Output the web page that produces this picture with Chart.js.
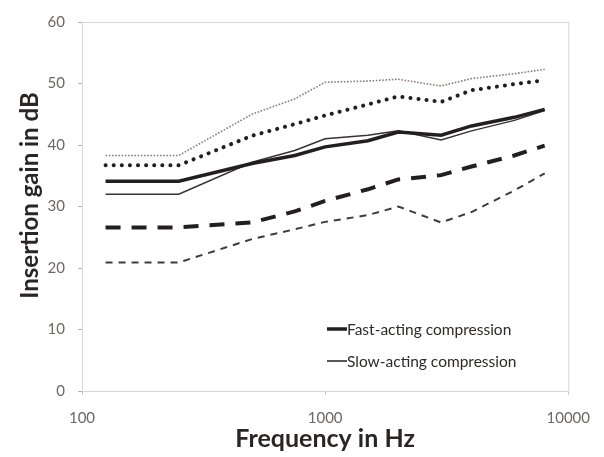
<!DOCTYPE html>
<html>
<head>
<meta charset="utf-8">
<script src="https://cdn.jsdelivr.net/npm/chart.js@4.4.1/dist/chart.umd.min.js"></script>
<style>
  html, body { margin: 0; padding: 0; background: #fff; }
  #wrap { width: 604px; height: 457px; }
</style>
</head>
<body>
<div id="wrap"><canvas id="gainChart" width="604" height="457"></canvas></div>
<script>
// frequencies in Hz
const freqs = [125, 250, 500, 750, 1000, 1500, 2000, 3000, 4000, 6000, 8000];

// insertion gain in dB
const fastSolid  = [34.1, 34.1, 37.0, 38.3, 39.7, 40.7, 42.1, 41.6, 43.1, 44.5, 45.8];
const slowSolid  = [32.0, 32.0, 37.2, 39.1, 41.0, 41.6, 42.3, 40.8, 42.3, 44.0, 45.6];
const fastDotted = [36.7, 36.7, 41.5, 43.4, 44.8, 46.6, 47.9, 47.0, 48.9, 49.9, 50.5];
const slowDotted = [38.3, 38.3, 45.0, 47.5, 50.2, 50.4, 50.7, 49.6, 50.8, 51.6, 52.3];
const fastDashed = [26.6, 26.6, 27.4, 29.2, 30.9, 32.8, 34.4, 35.1, 36.5, 38.3, 39.9];
const slowDashed = [20.9, 20.9, 24.7, 26.3, 27.5, 28.6, 30.0, 27.4, 29.1, 32.6, 35.4];

const xTicks = [100, 1000, 10000];
const yTicks = [0, 10, 20, 30, 40, 50, 60];
const legendLabels = ["Fast-acting compression", "Slow-acting compression"];

const FONT = "Lato, 'Open Sans', sans-serif";

function pts(values) {
  return values.map((v, i) => ({ x: freqs[i], y: v }));
}

function line(label, values, color, width, dash) {
  return {
    label: label,
    data: pts(values),
    borderColor: color,
    borderWidth: width,
    borderDash: dash,
    borderCapStyle: dash.length && dash[0] < 1 ? "round" : "butt",
    pointRadius: 0,
    tension: 0,
    fill: false,
  };
}

// plot frame, y title and legend inside the plot
const framePlugin = {
  id: "frame",
  beforeDatasetsDraw(chart) {
    const a = chart.chartArea;
    const c = chart.ctx;
    c.save();
    c.strokeStyle = "#dcd6d4";
    c.lineWidth = 1;
    c.strokeRect(a.left + 0.5, a.top + 0.5, a.right - a.left, a.bottom - a.top);
    // y axis title, sits a bit above the plot centre like the original
    c.translate(30, (a.top + a.bottom) / 2 - 11);
    c.rotate(-Math.PI / 2);
    c.font = "bold 24px " + FONT;
    c.fillStyle = "#2b2526";
    c.textAlign = "center";
    c.textBaseline = "middle";
    c.fillText("Insertion gain in dB", 0, 0);
    c.restore();
  },
  afterDatasetsDraw(chart) {
    const a = chart.chartArea;
    const c = chart.ctx;
    const x0 = a.left + 245;
    const rows = [
      { y: a.top + 307, w: 3.5 },
      { y: a.top + 339, w: 1.5 },
    ];
    c.save();
    c.font = "15.5px " + FONT;
    c.textBaseline = "middle";
    c.fillStyle = "#2f2a29";
    rows.forEach((r, i) => {
      c.strokeStyle = "#231f20";
      c.lineWidth = r.w;
      c.beginPath();
      c.moveTo(x0, r.y);
      c.lineTo(x0 + 20, r.y);
      c.stroke();
      c.fillText(legendLabels[i], x0 + 20, r.y + 1);
    });
    c.restore();
  },
};

const ctx = document.getElementById("gainChart").getContext("2d");
const gainChart = new Chart(ctx, {
  type: "line",
  data: {
    datasets: [
      line("Fast-acting compression", fastSolid, "#231f20", 3.5, []),
      line("Slow-acting compression", slowSolid, "#3a3233", 1.5, []),
      line("fast dotted", fastDotted, "#231f20", 4, [0.1, 8]),
      line("slow dotted", slowDotted, "#8c7c79", 1.6, [1.6, 1.6]),
      line("fast dashed", fastDashed, "#231f20", 4, [15, 11]),
      line("slow dashed", slowDashed, "#433a3a", 2, [7, 6]),
    ],
  },
  options: {
    responsive: false,
    animation: false,
    layout: { padding: { top: 18, right: 31, left: 0, bottom: 0 } },
    plugins: {
      legend: { display: false },
      tooltip: { enabled: false },
    },
    scales: {
      x: {
        type: "logarithmic",
        min: 100,
        max: 10000,
        afterBuildTicks(scale) {
          scale.ticks = xTicks.map((v) => ({ value: v }));
        },
        afterFit(scale) { scale.height = 66; },
        grid: { drawOnChartArea: false, tickLength: 4, color: "#d0c8c6" },
        border: { color: "#dcd6d4" },
        ticks: {
          autoSkip: false,
          maxRotation: 0,
          padding: 14,
          color: "#6d6766",
          font: { family: FONT, size: 15 },
          callback: (v) => String(v),
        },
        title: {
          display: true,
          text: "Frequency in Hz",
          color: "#2b2526",
          font: { family: FONT, size: 25, weight: "bold" },
          padding: { top: 0, bottom: 3 },
        },
      },
      y: {
        min: 0,
        max: 60,
        afterBuildTicks(scale) {
          scale.ticks = yTicks.map((v) => ({ value: v }));
        },
        afterFit(scale) { scale.width = 82; },
        grid: { drawOnChartArea: false, tickLength: 4, color: "#b8b0ae" },
        border: { color: "#b8b0ae" },
        ticks: {
          padding: 13,
          color: "#6d6766",
          font: { family: FONT, size: 15 },
        },
      },
    },
  },
  plugins: [framePlugin],
});
</script>
</body>
</html>
